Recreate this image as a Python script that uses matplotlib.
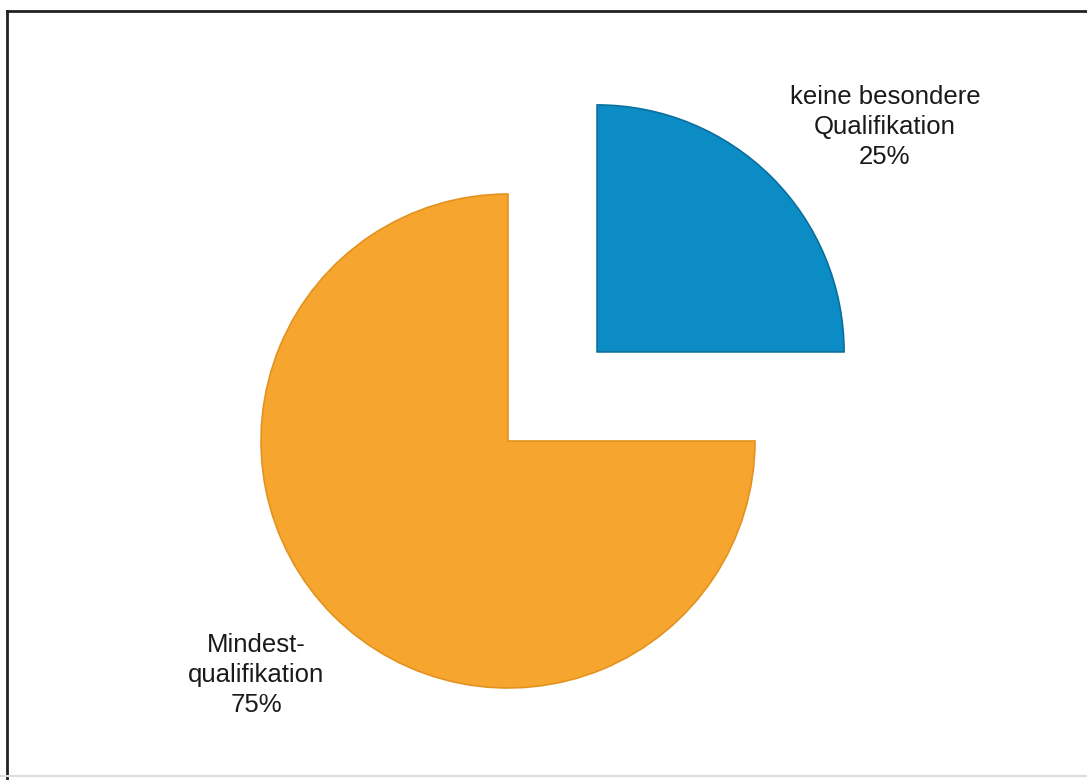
import matplotlib.pyplot as plt
from matplotlib.lines import Line2D

# Anteile der Qualifikationsstufen
labels = ["keine besondere\nQualifikation", "Mindest-\nqualifikation"]
shares = [25, 75]
colors = ["#0b8cc5", "#f6a52e"]
edges = ["#0a6f9c", "#e3921f"]

W, H = 1087, 780
R = 247
explode = [0.51 * R, 0]  # pie() verschiebt in Dateneinheiten

fig = plt.figure(figsize=(W / 100, H / 100), dpi=100)
ax = fig.add_axes([0, 0, 1, 1])

wedges, _ = ax.pie(shares, colors=colors, explode=explode, startangle=0,
                   counterclock=True, radius=R, center=(508, H - 441),
                   frame=True, wedgeprops=dict(linewidth=1.2))
for w, ec in zip(wedges, edges):
    w.set_edgecolor(ec)
ax.set_xlim(0, W)
ax.set_ylim(0, H)
ax.axis("off")

# Beschriftungen
label_pos = [(885, H - 127), (256, H - 675)]
for (x, y), lab, s in zip(label_pos, labels, shares):
    ax.text(x, y, f"{lab}\n{s}%", ha="center", va="center", fontsize=18.5,
            family="Liberation Sans", color="#1a1a1a", linespacing=1.3)

# Rahmen
fig.add_artist(Line2D([7 / W, 7 / W], [0, 1 - 11 / H], color="#222222", lw=2,
                      transform=fig.transFigure))
fig.add_artist(Line2D([7 / W, 1], [1 - 11 / H, 1 - 11 / H], color="#222222", lw=2,
                      transform=fig.transFigure))
fig.add_artist(Line2D([0, 1], [4 / H, 4 / H], color="#dddddd", lw=1.5,
                      transform=fig.transFigure))

fig.savefig("out.png", dpi=100)
